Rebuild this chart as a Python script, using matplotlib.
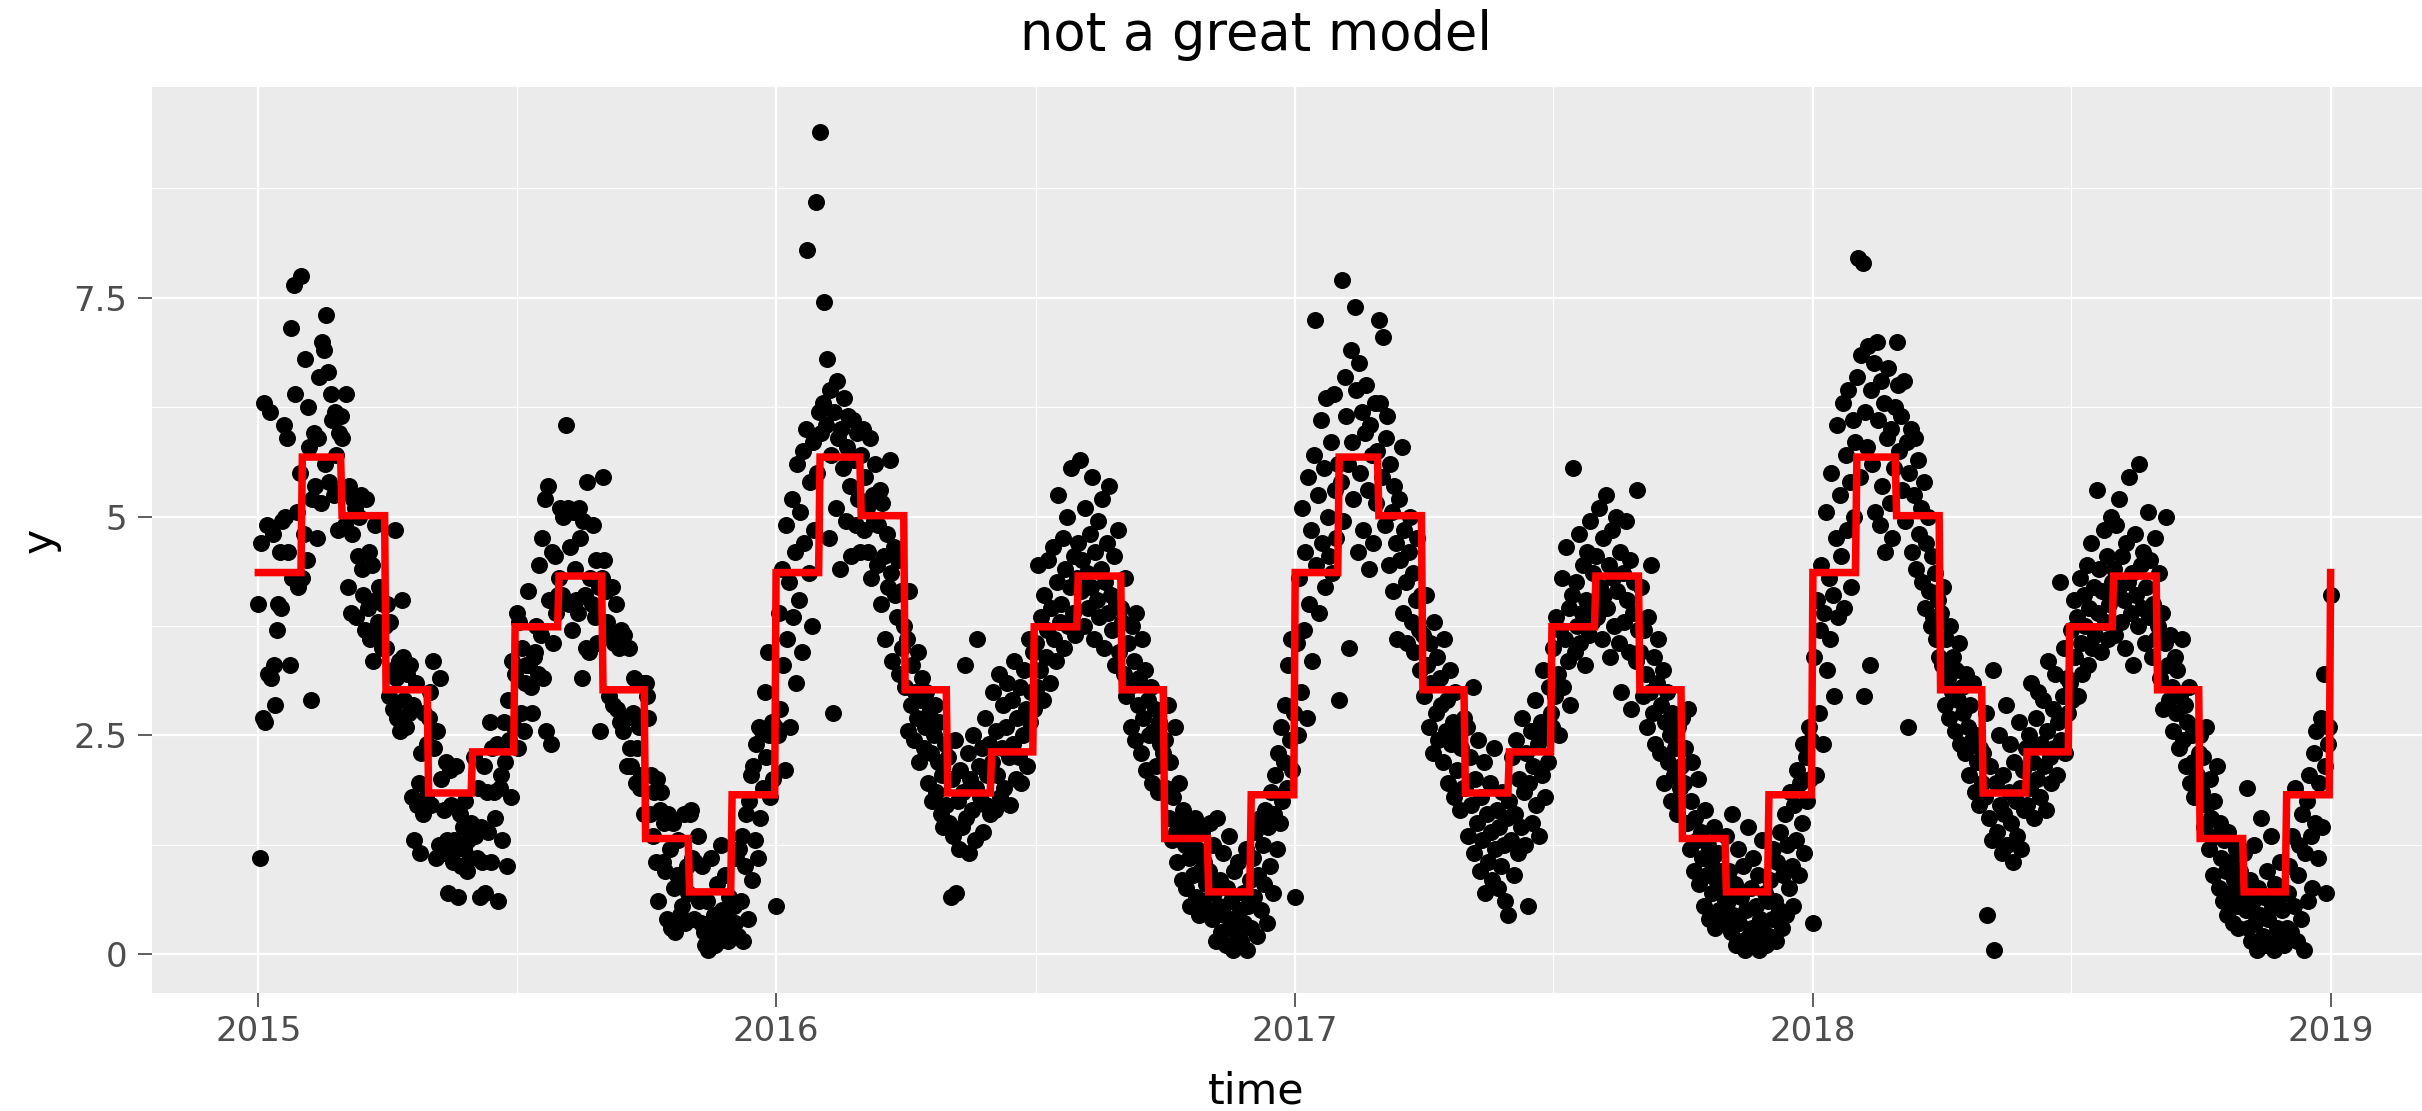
import matplotlib
matplotlib.use("Agg")
import matplotlib.pyplot as plt
import matplotlib.dates as mdates
import numpy as np
import pandas as pd

# daily observations, one row per month (Jan..Dec)
y_2015 = [
    [4.0, 1.1, 4.7, 2.7, 6.3, 2.65, 4.9, 3.2, 6.2, 3.15, 4.8, 3.3, 2.85, 3.7, 4.0, 4.6, 3.95, 4.95, 6.05, 5.0, 5.9, 4.6, 3.3, 7.15, 4.3, 7.65, 6.4, 5.05, 4.2, 5.5, 7.75],
    [4.3, 4.8, 6.8, 4.5, 6.25, 5.8, 2.9, 5.2, 5.95, 5.35, 4.75, 5.9, 6.6, 5.15, 7.0, 6.9, 5.6, 7.3, 6.65, 5.4, 6.4, 6.1, 5.25, 6.2, 5.7, 4.85, 5.95, 6.15],
    [5.9, 5.3, 4.9, 6.4, 4.2, 5.35, 3.9, 4.8, 5.2, 5.1, 3.85, 4.55, 5.0, 5.25, 4.4, 4.1, 3.7, 5.2, 3.95, 4.6, 3.6, 4.45, 3.35, 4.9, 4.05, 3.8, 4.2, 3.65, 3.5, 4.0, 3.75],
    [3.5, 4.0, 2.95, 3.8, 3.25, 2.8, 4.85, 3.15, 2.7, 3.35, 2.55, 4.05, 3.4, 2.9, 2.6, 3.2, 2.75, 3.3, 1.8, 2.85, 1.3, 3.1, 1.7, 1.95, 1.15, 2.3, 1.6, 2.75, 1.8, 2.4],
    [2.7, 3.0, 1.7, 3.35, 2.35, 1.1, 2.55, 1.25, 3.15, 2.0, 1.15, 1.65, 2.2, 1.3, 0.7, 2.1, 1.7, 1.05, 1.3, 2.15, 1.2, 0.65, 1.6, 1.0, 1.45, 1.2, 1.75, 0.95, 1.3, 1.1, 1.5],
    [1.4, 2.25, 1.35, 1.1, 1.9, 0.65, 1.45, 1.05, 2.15, 0.7, 1.85, 1.4, 2.65, 1.05, 2.35, 1.85, 1.55, 2.4, 0.6, 1.9, 2.05, 1.3, 2.65, 2.2, 1.0, 2.9, 2.45, 1.8, 3.35, 2.6],
    [3.2, 3.9, 2.35, 3.8, 2.75, 3.5, 2.55, 3.1, 3.3, 4.15, 3.3, 3.05, 2.75, 3.4, 3.45, 3.75, 3.2, 4.45, 3.65, 4.75, 3.15, 5.2, 2.55, 5.35, 4.05, 2.4, 4.6, 3.55, 4.55, 3.9, 4.1],
    [4.3, 5.1, 4.1, 5.0, 4.05, 6.05, 5.1, 4.0, 4.65, 3.7, 5.05, 4.4, 4.05, 3.9, 5.1, 4.75, 3.15, 4.95, 4.1, 3.5, 5.4, 3.45, 4.3, 4.0, 4.9, 3.85, 4.5, 3.55, 4.2, 2.55, 4.3],
    [5.45, 4.5, 4.15, 3.8, 2.95, 3.65, 4.2, 2.85, 3.55, 4.0, 2.8, 3.5, 2.65, 3.7, 2.55, 3.65, 2.7, 2.15, 3.5, 2.35, 2.15, 2.75, 3.15, 1.95, 2.35, 2.6, 1.9, 2.05, 3.1, 1.6],
    [3.1, 2.95, 2.7, 1.6, 2.05, 1.35, 1.85, 1.05, 2.0, 0.6, 1.65, 1.85, 1.05, 1.5, 0.95, 0.4, 1.6, 1.2, 0.3, 1.5, 0.75, 0.25, 0.9, 1.3, 0.45, 0.8, 0.55, 1.6, 0.35, 1.0, 0.7],
    [1.6, 1.65, 1.1, 0.4, 1.05, 0.65, 1.35, 0.6, 0.35, 1.0, 0.25, 0.1, 0.6, 0.05, 0.35, 1.1, 0.2, 0.45, 0.1, 0.8, 0.3, 0.15, 1.25, 0.5, 0.2, 0.9, 0.4, 0.15, 0.65, 0.25],
    [0.25, 0.55, 0.35, 1.1, 0.2, 1.2, 0.6, 1.35, 0.15, 1.0, 1.6, 0.4, 1.75, 2.05, 0.85, 2.15, 1.3, 2.4, 1.1, 2.6, 1.55, 2.55, 1.9, 3.0, 2.25, 3.45, 2.5, 1.8, 2.65, 2.0, 2.6],
]
y_2016 = [
    [0.55, 2.5, 3.9, 2.8, 4.4, 3.3, 2.1, 4.9, 3.6, 4.25, 2.6, 5.2, 3.85, 4.6, 3.1, 5.6, 4.05, 5.05, 3.45, 5.75, 4.7, 6.0, 8.05, 4.35, 5.4, 3.75, 5.85, 4.85, 8.6, 5.5, 6.2],
    [9.4, 5.95, 6.3, 7.45, 6.05, 6.8, 4.75, 6.45, 5.7, 2.75, 6.2, 5.1, 6.55, 5.9, 4.4, 6.0, 5.55, 6.35, 4.95, 5.8, 6.15, 5.35, 4.55, 6.1, 5.65, 4.9, 5.95, 5.2, 4.6],
    [5.7, 6.0, 4.85, 5.45, 5.1, 4.6, 5.9, 4.3, 5.25, 4.95, 5.6, 4.45, 4.9, 5.3, 4.0, 5.15, 4.55, 3.6, 4.8, 4.2, 5.65, 4.35, 3.35, 4.65, 4.1, 3.85, 4.5, 3.2, 4.15, 3.5, 3.75],
    [3.05, 3.6, 2.55, 4.15, 2.85, 3.3, 2.45, 3.0, 2.7, 3.45, 2.2, 2.9, 3.15, 2.35, 2.6, 3.0, 1.95, 2.75, 2.3, 1.75, 2.5, 2.85, 1.85, 2.2, 2.65, 1.6, 2.05, 1.45, 2.4, 1.7],
    [2.25, 1.5, 0.65, 2.0, 1.35, 2.45, 0.7, 1.75, 1.2, 2.1, 1.45, 1.85, 3.3, 1.55, 2.3, 1.15, 2.0, 1.65, 2.5, 1.3, 1.9, 3.6, 2.15, 1.8, 2.35, 1.4, 2.7, 1.7, 2.05, 2.4, 1.6],
    [2.2, 3.0, 1.65, 2.55, 2.05, 3.2, 1.8, 2.35, 2.85, 1.9, 2.6, 3.1, 2.25, 1.7, 2.9, 2.4, 3.35, 2.0, 2.7, 2.25, 3.05, 1.95, 2.5, 3.25, 2.8, 2.15, 3.6, 2.65, 3.0, 3.45],
    [2.8, 3.55, 3.05, 4.45, 3.25, 3.85, 2.9, 4.1, 3.4, 3.7, 4.5, 3.1, 3.95, 4.65, 3.6, 3.35, 4.25, 5.25, 3.8, 4.0, 4.75, 3.5, 4.4, 5.0, 3.75, 4.2, 5.55, 3.9, 4.55, 3.65, 4.3],
    [4.7, 5.65, 4.15, 4.5, 3.75, 5.1, 4.35, 3.95, 4.8, 4.2, 5.45, 3.6, 4.6, 4.05, 4.95, 3.85, 4.4, 5.2, 3.5, 4.25, 4.7, 3.9, 5.35, 4.1, 3.7, 4.55, 3.3, 4.0, 4.85, 3.45, 3.95],
    [3.8, 3.2, 4.3, 2.95, 3.55, 3.05, 2.6, 3.75, 3.35, 2.45, 3.9, 2.85, 3.15, 2.3, 3.6, 2.7, 3.25, 2.1, 2.9, 2.5, 3.05, 1.95, 2.55, 2.8, 2.15, 1.85, 2.65, 2.4, 1.9, 2.3],
    [2.45, 1.9, 2.85, 1.55, 2.2, 1.3, 1.8, 2.6, 1.4, 1.05, 1.95, 1.5, 0.85, 1.65, 1.25, 0.75, 1.45, 1.1, 0.55, 1.35, 0.9, 1.55, 0.65, 1.2, 0.45, 0.95, 1.4, 0.6, 1.05, 0.8, 0.5],
    [0.95, 1.5, 0.4, 1.25, 0.7, 0.15, 1.55, 0.55, 0.85, 0.25, 1.15, 0.45, 0.1, 0.75, 1.35, 0.3, 0.6, 0.05, 0.95, 0.4, 0.2, 1.05, 0.5, 0.15, 0.7, 0.35, 1.2, 0.05, 0.55, 0.85],
    [0.3, 1.1, 0.65, 1.4, 0.2, 0.9, 1.55, 0.5, 1.25, 0.8, 1.65, 0.35, 1.45, 1.0, 1.85, 0.7, 1.6, 2.05, 1.2, 2.3, 1.5, 2.6, 1.75, 2.2, 2.85, 1.9, 3.3, 2.45, 3.6, 2.1, 2.75],
]
y_2017 = [
    [0.65, 3.55, 2.5, 4.3, 3.0, 5.1, 3.7, 4.6, 2.7, 5.45, 4.0, 4.85, 3.35, 5.7, 7.25, 4.45, 5.25, 3.9, 6.1, 4.7, 5.55, 4.2, 6.35, 5.0, 4.55, 5.85, 4.35, 6.4, 5.3, 4.75, 5.6],
    [2.9, 5.4, 7.7, 4.95, 6.6, 6.15, 5.6, 3.5, 6.9, 5.85, 5.2, 7.4, 6.45, 4.6, 6.75, 5.5, 6.2, 4.85, 5.95, 6.5, 5.3, 4.4, 6.05, 5.7, 4.7, 6.3, 5.15, 5.75],
    [7.25, 6.3, 5.45, 7.05, 4.9, 5.9, 6.15, 4.45, 5.6, 5.05, 4.15, 5.35, 4.7, 3.6, 5.2, 4.5, 5.8, 3.9, 4.85, 4.25, 3.55, 4.6, 5.0, 3.8, 4.35, 3.45, 4.05, 4.75, 3.7, 3.25, 4.1],
    [3.65, 2.95, 4.1, 3.3, 2.6, 3.55, 3.1, 2.3, 3.8, 2.75, 3.4, 2.45, 3.15, 2.85, 2.2, 3.6, 2.55, 2.9, 1.95, 3.25, 2.4, 2.65, 1.8, 3.0, 2.1, 2.5, 1.65, 2.35, 1.9, 2.7],
    [1.9, 2.6, 1.35, 2.25, 1.7, 3.05, 1.15, 2.0, 1.5, 2.45, 0.95, 1.8, 1.3, 2.2, 0.7, 1.6, 1.05, 1.95, 1.4, 0.85, 2.35, 1.2, 1.65, 0.75, 1.45, 1.0, 1.85, 1.25, 0.6, 1.55, 0.45],
    [1.75, 1.3, 2.25, 0.9, 1.6, 2.45, 1.15, 2.0, 1.45, 2.7, 1.85, 1.25, 2.3, 0.55, 1.95, 2.55, 1.5, 2.15, 2.9, 1.7, 2.4, 1.35, 2.65, 2.05, 3.25, 1.8, 2.5, 2.2, 3.05, 2.75],
    [2.6, 3.5, 2.95, 3.85, 3.2, 2.5, 3.7, 4.3, 3.05, 3.6, 4.65, 3.35, 3.95, 2.85, 4.1, 5.55, 3.45, 4.25, 3.75, 4.8, 3.55, 3.9, 4.45, 3.3, 4.05, 4.6, 3.65, 4.95, 3.8, 4.35, 4.0],
    [4.55, 3.85, 5.1, 4.2, 3.6, 4.75, 4.1, 5.25, 3.95, 4.45, 3.4, 4.85, 4.3, 3.75, 5.0, 4.15, 3.55, 4.6, 3.0, 4.35, 3.8, 4.95, 4.05, 3.45, 4.5, 2.8, 3.9, 4.25, 3.35, 5.3, 3.7],
    [3.45, 4.2, 2.95, 3.7, 3.2, 2.6, 3.85, 3.0, 4.45, 2.75, 3.4, 2.4, 3.1, 3.6, 2.3, 2.85, 3.25, 1.95, 2.65, 3.0, 2.2, 2.5, 1.75, 2.75, 2.05, 2.35, 1.6, 2.6, 1.9, 2.15],
    [2.7, 1.95, 2.35, 1.5, 2.8, 1.2, 1.75, 2.2, 0.95, 1.55, 1.3, 2.0, 0.8, 1.4, 1.1, 0.55, 1.65, 0.9, 1.25, 0.4, 1.05, 0.7, 1.45, 0.3, 0.85, 1.15, 0.5, 0.95, 0.35, 0.75, 0.6],
    [1.35, 0.6, 0.95, 0.25, 1.6, 0.45, 0.8, 0.1, 1.2, 0.35, 0.65, 0.15, 1.0, 0.05, 0.5, 1.45, 0.2, 0.75, 0.3, 1.1, 0.15, 0.55, 0.9, 0.05, 0.4, 1.3, 0.25, 0.7, 0.1, 0.6],
    [0.2, 0.85, 0.4, 1.2, 0.6, 0.15, 1.05, 0.5, 1.4, 0.3, 0.9, 1.6, 0.45, 1.25, 0.75, 1.85, 1.0, 0.55, 1.7, 1.3, 2.1, 0.9, 1.95, 1.5, 2.4, 1.15, 2.25, 1.75, 2.6, 2.0, 2.45],
]
y_2018 = [
    [0.35, 3.4, 2.05, 4.05, 2.75, 3.7, 4.45, 2.4, 3.9, 5.05, 3.25, 4.3, 3.6, 5.5, 4.1, 2.95, 4.75, 6.05, 3.85, 5.25, 4.55, 6.3, 3.95, 5.7, 4.85, 6.45, 5.4, 4.2, 6.1, 5.0, 5.85],
    [6.6, 7.95, 5.45, 6.85, 7.9, 2.95, 6.2, 5.8, 6.95, 3.3, 6.45, 5.6, 6.75, 5.05, 7.0, 6.1, 4.9, 6.55, 5.35, 6.3, 4.6, 5.9, 6.7, 5.15, 6.0, 4.75, 5.55, 6.25],
    [7.0, 6.5, 5.75, 6.15, 5.3, 6.55, 4.95, 5.85, 2.6, 5.5, 6.0, 4.6, 5.25, 5.9, 4.4, 5.65, 4.8, 5.1, 4.25, 5.4, 3.95, 4.7, 5.0, 4.15, 3.75, 4.55, 3.85, 4.35, 3.6, 4.05, 3.4],
    [3.9, 3.3, 4.2, 2.85, 3.6, 3.15, 2.7, 3.75, 3.0, 3.4, 2.55, 3.25, 2.9, 3.55, 2.4, 3.05, 2.75, 2.3, 3.2, 2.6, 2.05, 2.85, 2.45, 3.1, 1.85, 2.5, 2.2, 1.7, 2.35, 1.95],
    [2.3, 1.8, 2.75, 0.45, 1.55, 2.15, 1.3, 3.25, 0.05, 1.95, 1.4, 2.5, 1.7, 1.15, 2.05, 1.6, 2.85, 1.25, 1.85, 2.4, 1.5, 1.05, 2.2, 1.75, 1.35, 2.65, 1.9, 1.2, 2.1, 1.65, 2.35],
    [1.7, 2.5, 1.9, 3.1, 2.2, 1.55, 2.7, 2.0, 3.0, 1.8, 2.4, 2.9, 2.15, 1.65, 2.55, 3.35, 2.25, 1.95, 2.8, 2.35, 3.2, 2.05, 2.65, 4.25, 2.45, 2.95, 3.5, 2.3, 3.15, 2.75],
    [3.1, 3.7, 2.9, 4.05, 3.4, 3.85, 2.95, 4.3, 3.55, 3.2, 4.1, 3.75, 4.45, 3.3, 3.95, 4.7, 3.5, 4.2, 3.65, 5.3, 3.9, 4.4, 3.45, 4.15, 4.85, 3.8, 4.55, 3.6, 4.0, 5.0, 4.25],
    [4.4, 3.65, 4.9, 4.15, 5.2, 3.8, 4.55, 4.05, 3.5, 4.7, 4.25, 5.45, 3.9, 4.35, 3.3, 4.8, 4.1, 3.75, 5.6, 4.45, 3.95, 4.6, 3.55, 4.2, 5.05, 3.85, 4.5, 3.4, 4.0, 4.75, 3.6],
    [3.75, 4.35, 3.15, 3.9, 2.8, 3.55, 5.0, 3.3, 2.9, 3.65, 3.05, 2.55, 3.4, 2.75, 3.25, 2.35, 2.95, 3.6, 2.45, 2.85, 2.15, 2.65, 3.05, 1.95, 2.5, 2.2, 1.8, 2.6, 2.05, 2.3],
    [2.5, 1.85, 2.25, 1.45, 2.6, 1.7, 1.2, 2.0, 1.55, 0.9, 1.75, 1.35, 2.15, 0.75, 1.5, 1.1, 0.6, 1.3, 0.95, 0.45, 1.4, 0.7, 1.05, 0.35, 0.85, 1.2, 0.55, 0.3, 0.95, 0.65, 0.8],
    [1.15, 0.5, 1.9, 0.3, 0.85, 0.15, 0.6, 1.25, 0.35, 0.05, 0.75, 0.45, 1.55, 0.2, 0.65, 0.1, 0.95, 0.4, 0.15, 1.35, 0.55, 0.05, 0.8, 0.3, 0.6, 1.05, 0.2, 0.5, 0.1, 0.7],
    [0.3, 0.7, 1.0, 0.25, 1.35, 0.55, 1.9, 0.15, 0.9, 1.25, 0.4, 1.6, 0.05, 1.15, 1.75, 0.6, 2.05, 1.35, 0.75, 2.3, 1.5, 2.55, 1.1, 1.95, 2.7, 1.45, 3.2, 2.15, 0.7, 2.4, 2.6],
]
y_2019 = [[4.1]]

# fitted value per calendar month (month-of-year model)
monthly_fit = [4.36, 5.68, 5.01, 3.02, 1.84, 2.31, 3.74, 4.32, 3.02, 1.32, 0.71, 1.82]

y_ticks = [0, 2.5, 5, 7.5]
y_tick_labels = ["0", "2.5", "5", "7.5"]

PANEL_BG = "#EBEBEB"
TICK_COLOR = "#333333"
LABEL_COLOR = "#4D4D4D"


def to_frame(year, months):
    rows = []
    for m, vals in enumerate(months):
        start = pd.Timestamp(year=year, month=m + 1, day=1)
        days = start + pd.to_timedelta(np.arange(len(vals)), unit="D")
        rows.append(pd.DataFrame({"time": days, "y": vals}))
    return pd.concat(rows, ignore_index=True)


df = pd.concat([to_frame(2015, y_2015), to_frame(2016, y_2016),
                to_frame(2017, y_2017), to_frame(2018, y_2018),
                to_frame(2019, y_2019)], ignore_index=True)

# model prediction for every day in the range
days = pd.date_range(df["time"].min(), df["time"].max(), freq="D")
pred = np.array(monthly_fit)[days.month - 1]

fig = plt.figure(figsize=(24.22, 11.11), dpi=100)
ax = fig.add_axes([152 / 2422, 118 / 1111, (2437 - 152) / 2422, (993 - 87) / 1111])
ax.set_facecolor(PANEL_BG)

ax.scatter(df["time"], df["y"], s=150, color="black", linewidths=0, zorder=3)
ax.plot(days, pred, color="#FF0000", lw=5.4, zorder=4, solid_joinstyle="miter")

pad = pd.Timedelta(days=75)
ax.set_xlim(pd.Timestamp("2015-01-01") - pad, pd.Timestamp("2019-01-01") + pad)
ax.set_ylim(-0.446, 9.91)

ax.xaxis.set_major_locator(mdates.YearLocator())
ax.xaxis.set_major_formatter(mdates.DateFormatter("%Y"))
ax.xaxis.set_minor_locator(mdates.MonthLocator(bymonth=7, bymonthday=2))
ax.set_yticks(y_ticks)
ax.set_yticklabels(y_tick_labels)
ax.set_yticks([1.25, 3.75, 6.25, 8.75], minor=True)

ax.grid(which="major", color="white", lw=1.6, zorder=0)
ax.grid(which="minor", color="white", lw=0.8, zorder=0)
ax.set_axisbelow(True)
for s in ax.spines.values():
    s.set_visible(False)

ax.tick_params(which="major", length=10, width=1.1, color=TICK_COLOR,
               labelsize=24.5, labelcolor=LABEL_COLOR)
ax.tick_params(axis="x", which="major", pad=6)
ax.tick_params(axis="y", which="major", pad=8)
ax.tick_params(which="minor", length=0)

fig.text(1256 / 2422, 1 - 1103 / 1111, "time", fontsize=30.8, ha="center", va="baseline")
fig.text(40 / 2422, 1 - 540 / 1111, "y", fontsize=30.8, rotation=90, ha="center", va="center")
fig.text(1256 / 2422, 1 - 35 / 1111, "not a great model", fontsize=38, ha="center", va="center")

fig.savefig("out.png", dpi=100, facecolor="white")
